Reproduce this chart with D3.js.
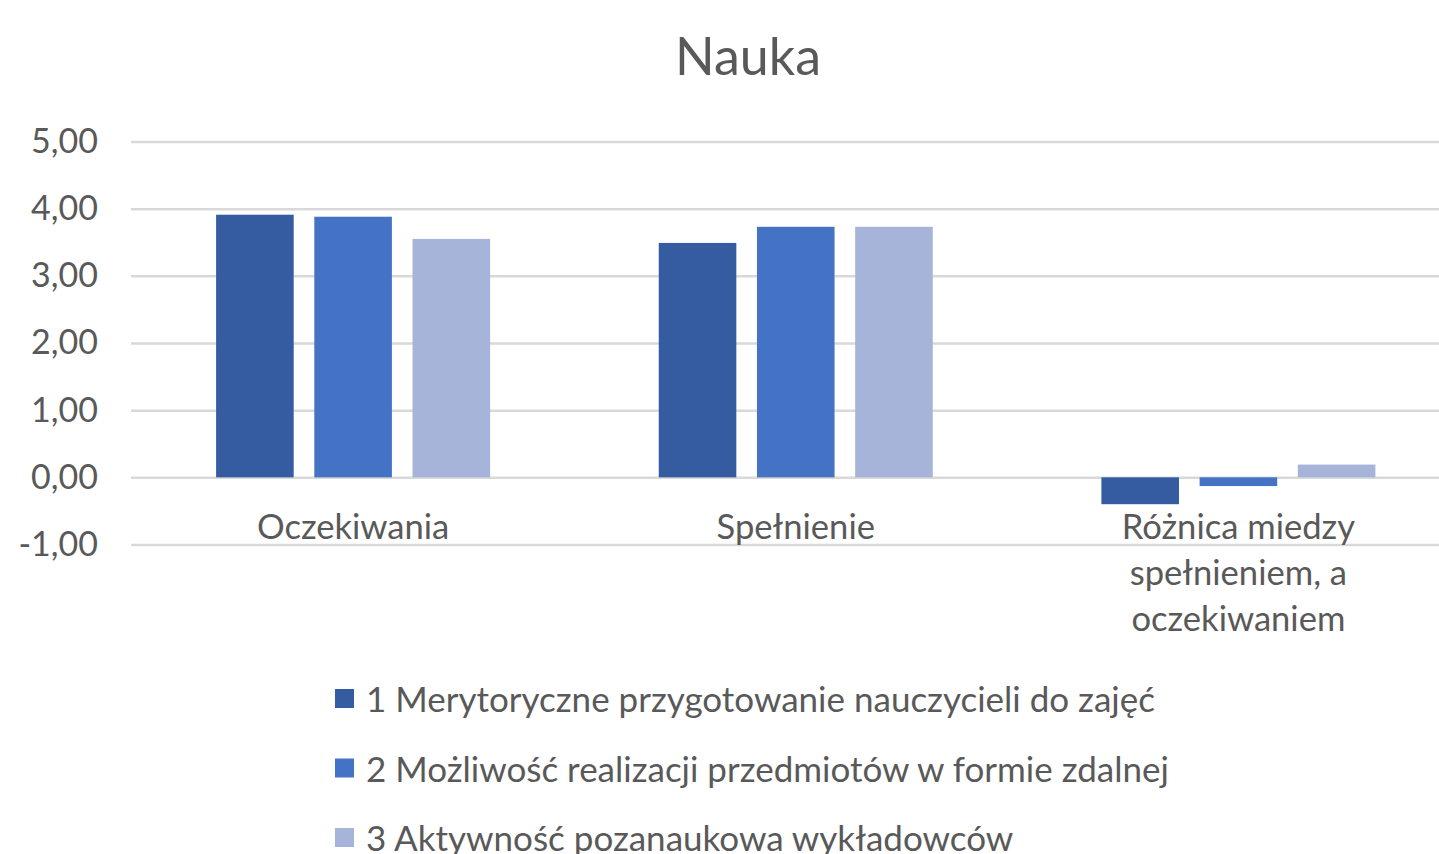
<!DOCTYPE html>
<html>
<head>
<meta charset="utf-8">
<script src="https://cdn.jsdelivr.net/npm/d3@7"></script>
<style>
  html, body { margin: 0; padding: 0; background: #fff; }
  svg { display: block; font-family: Lato, "Open Sans", sans-serif; }
</style>
</head>
<body>
<svg id="chart" width="1439" height="854"></svg>
<script>
// dane
const categories = ["Oczekiwania", "Spełnienie", "Różnica miedzy spełnieniem, a oczekiwaniem"];
const seriesNames = [
  "1 Merytoryczne przygotowanie nauczycieli do zajęć",
  "2 Możliwość realizacji przedmiotów w formie zdalnej",
  "3 Aktywność pozanaukowa wykładowców"
];
const s1 = [3.91, 3.49, -0.40];
const s2 = [3.88, 3.73, -0.13];
const s3 = [3.55, 3.73, 0.19];
const yTicks = [-1, 0, 1, 2, 3, 4, 5];
const colors = ["#355CA1", "#4472C4", "#A7B4D9"];

const seriesValues = [s1, s2, s3];
const TXT = "#595959";
const GRID = "#d9d9d9";

const svg = d3.select("#chart");
const W = 1439;

const locale = d3.formatLocale({ decimal: ",", thousands: " ", grouping: [3], currency: ["", ""], minus: "-" });
const fmt = locale.format(".2f");

const x0 = d3.scaleBand().domain(categories).range([132, 1459.5])
  .paddingInner(0.381).paddingOuter(0.19);
const x1 = d3.scaleBand().domain(d3.range(seriesNames.length)).range([0, x0.bandwidth()])
  .paddingInner(0.21).paddingOuter(0);
const y = d3.scaleLinear().domain([-1, 5]).range([544.5, 141.5]);

// tytuł
svg.append("text")
  .attr("x", 748).attr("y", 55)
  .attr("text-anchor", "middle").attr("dominant-baseline", "central")
  .attr("font-size", 52).attr("fill", TXT)
  .text("Nauka");

// oś Y + linie siatki
const yAxis = svg.append("g")
  .attr("transform", "translate(131,0)")
  .call(d3.axisLeft(y).tickValues(yTicks).tickFormat(fmt).tickSize(-(W - 131)).tickPadding(33));
yAxis.select(".domain").remove();
yAxis.selectAll(".tick line").attr("stroke", GRID).attr("stroke-width", 2.5);
yAxis.selectAll(".tick text")
  .attr("font-size", 34).attr("fill", TXT).attr("font-family", "Lato, sans-serif");

// słupki
const groups = svg.append("g").selectAll("g")
  .data(categories)
  .join("g")
  .attr("transform", (d) => `translate(${x0(d)},0)`);

groups.selectAll("rect")
  .data((d, ci) => seriesValues.map((vals, si) => ({ si, v: vals[ci] })))
  .join("rect")
  .attr("x", (d) => x1(d.si))
  .attr("width", x1.bandwidth())
  .attr("y", (d) => y(Math.max(0, d.v)))
  .attr("height", (d) => Math.abs(y(d.v) - y(0)))
  .attr("fill", (d) => colors[d.si]);

// etykiety kategorii (zawijane)
function wrapWords(str, maxW, size) {
  const tmp = svg.append("text").attr("font-size", size);
  const words = str.split(" ");
  const lines = [];
  let line = [];
  for (const w of words) {
    line.push(w);
    tmp.text(line.join(" "));
    if (tmp.node().getComputedTextLength() > maxW && line.length > 1) {
      line.pop();
      lines.push(line.join(" "));
      line = [w];
    }
  }
  lines.push(line.join(" "));
  tmp.remove();
  return lines;
}

const catG = svg.append("g");
categories.forEach((c) => {
  const lines = wrapWords(c, 270, 34.6);
  const t = catG.append("text")
    .attr("text-anchor", "middle")
    .attr("font-size", 34.6).attr("fill", TXT);
  lines.forEach((ln, i) => {
    t.append("tspan")
      .attr("x", x0(c) + x0.bandwidth() / 2)
      .attr("y", 525 + i * 46)
      .attr("dominant-baseline", "central")
      .text(ln);
  });
});

// legenda
const leg = svg.append("g");
seriesNames.forEach((n, i) => {
  const cy = 698 + i * 69.5;
  leg.append("rect")
    .attr("x", 335).attr("y", cy - 9).attr("width", 19).attr("height", 19)
    .attr("fill", colors[i]);
  leg.append("text")
    .attr("x", 366).attr("y", cy)
    .attr("dominant-baseline", "central")
    .attr("font-size", 35).attr("fill", TXT)
    .text(n);
});
</script>
</body>
</html>
